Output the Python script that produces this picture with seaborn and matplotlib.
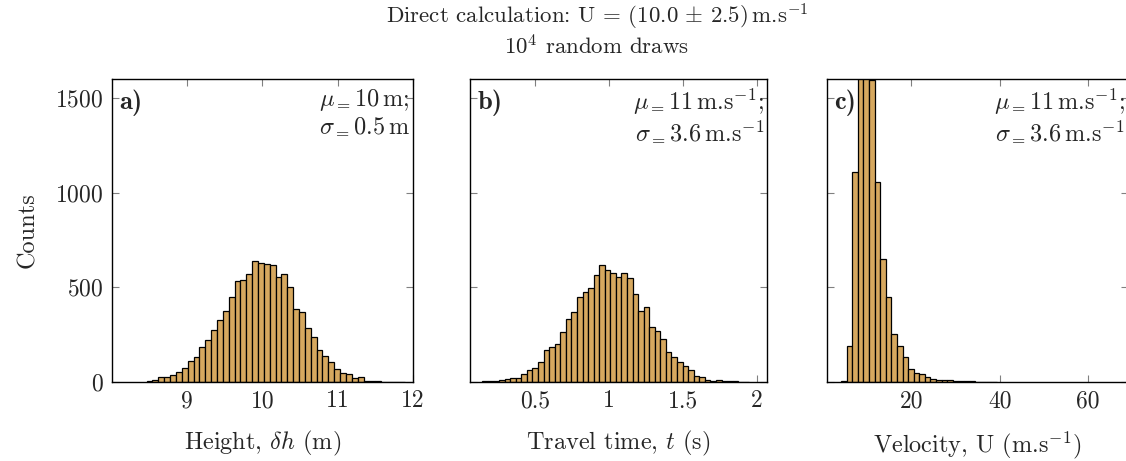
import numpy as np
import pandas as pd
import seaborn as sns
import matplotlib.pyplot as plt

# histogram counts (50 bins per panel, only visible ones kept)
height_start, height_width = 8.46, 0.078
height_counts = [4, 9, 25, 28, 37, 51, 74, 113, 131, 183, 222, 273, 326, 376, 449,
                 532, 537, 573, 638, 628, 622, 619, 557, 569, 500, 388, 371, 284,
                 238, 168, 138, 105, 66, 46, 43, 23, 25, 7, 5, 4, 2, 2, 1, 1]

time_start, time_width = 0.144, 0.0376
time_counts = [3, 5, 7, 9, 14, 20, 23, 43, 64, 76, 103, 167, 183, 199, 262, 335,
               372, 450, 473, 498, 567, 619, 589, 574, 557, 574, 548, 463, 376,
               394, 291, 268, 227, 156, 133, 106, 83, 64, 34, 27, 11, 7, 9, 5, 4,
               5, 2, 2]

vel_start, vel_width = 4.09, 1.265
vel_counts = [4, 188, 1108, 2050, 2000, 1596, 1059, 651, 449, 254, 190, 133, 71,
              48, 41, 27, 18, 11, 9, 12, 7, 5, 5, 4, 2, 2, 1, 1]

xlabels = ['Height, $\\delta h$ (m)', 'Travel time, $t$ (s)',
           'Velocity, U (m.s$^{-1}$)']
panel_tags = ['a)', 'b)', 'c)']
stats = ['$\\mu_{=}$10$\\,$m;\n$\\sigma_{=}$0.5$\\,$m',
         '$\\mu_{=}$11$\\,$m.s$^{-1}$;\n$\\sigma_{=}$3.6$\\,$m.s$^{-1}$',
         '$\\mu_{=}$11$\\,$m.s$^{-1}$;\n$\\sigma_{=}$3.6$\\,$m.s$^{-1}$']
xlims = [(8, 12), (0.06, 2.07), (0.9, 69)]
xticks = [[9, 10, 11, 12], [0.5, 1, 1.5, 2], [20, 40, 60]]
xticklabels = [['9', '10', '11', '12'], ['0.5', '1', '1.5', '2'], ['20', '40', '60']]

sns.set_style('ticks')
plt.rcParams['font.family'] = 'serif'
plt.rcParams['font.serif'] = ['cmr10', 'DejaVu Serif']
plt.rcParams['mathtext.fontset'] = 'cm'
plt.rcParams['axes.formatter.use_mathtext'] = True
plt.rcParams['font.size'] = 17

fig = plt.figure(figsize=(11.26, 4.61), dpi=100)
lefts = [0.0995, 0.4174, 0.7345]
widths = [0.267, 0.264, 0.267]

series = [(height_start, height_width, height_counts),
          (time_start, time_width, time_counts),
          (vel_start, vel_width, vel_counts)]

for k, (start, width, counts) in enumerate(series):
    ax = fig.add_axes([lefts[k], 0.1714, widths[k], 0.657])
    edges = start + width * np.arange(len(counts) + 1)
    df = pd.DataFrame({'x': (edges[:-1] + edges[1:]) / 2, 'n': counts})
    sns.histplot(data=df, x='x', weights='n', bins=edges.tolist(), ax=ax,
                 color='#D6A85F', edgecolor='black', linewidth=0.9, alpha=1)
    ax.set_xlim(*xlims[k])
    ax.set_ylim(0, 1600)
    ax.set_xticks(xticks[k])
    ax.set_xticklabels(xticklabels[k])
    ax.set_yticks([0, 500, 1000, 1500])
    if k == 0:
        ax.set_ylabel('Counts', labelpad=12, fontsize=17.5)
    else:
        ax.set_ylabel('')
        ax.set_yticklabels([])
    ax.set_xlabel(xlabels[k], labelpad=12, fontsize=17.5)
    ax.tick_params(direction='in', length=5, color='0.5', width=0.8,
                   top=True, right=True, labelsize=17, pad=6)
    for sp in ax.spines.values():
        sp.set_linewidth(1.0)
        sp.set_color('black')
    ax.text(0.025, 0.965, panel_tags[k], transform=ax.transAxes, fontsize=19,
            family='cmb10', va='top', ha='left', zorder=0)
    ax.text(0.99, 0.975, stats[k], transform=ax.transAxes, fontsize=17.5,
            va='top', ha='right', linespacing=1.15)

fig.text(0.530, 0.963, 'Direct calculation: U = (10.0$\\,\\pm\\,$2.5)$\\,$m.s$^{-1}$',
         ha='center', va='center', fontsize=16.5)
fig.text(0.530, 0.900, '10$^4$ random draws', ha='center', va='center', fontsize=16.5)

fig.savefig('out.png', dpi=100)
